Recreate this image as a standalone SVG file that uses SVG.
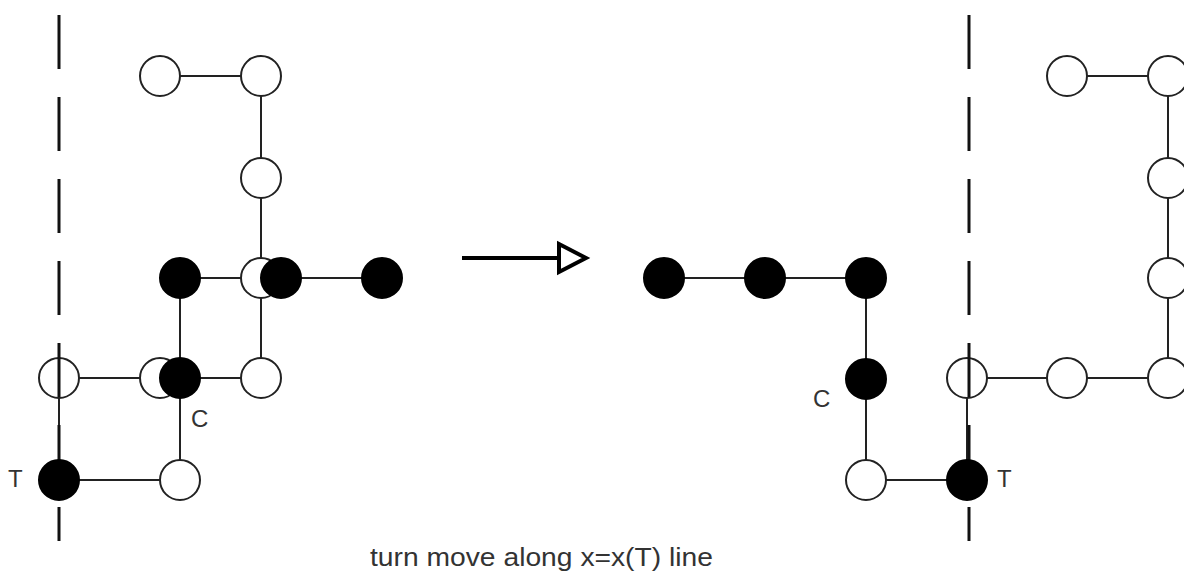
<svg xmlns="http://www.w3.org/2000/svg" width="1184" height="573" viewBox="0 0 1184 573">
  <style>
    .bond { stroke: #222; stroke-width: 2; fill: none; }
    .axis { stroke: #111; stroke-width: 3; stroke-dasharray: 54 28; fill: none; }
    .open { fill: #fff; stroke: #222; stroke-width: 2; }
    .full { fill: #000; stroke: #000; stroke-width: 2; }
    .lbl { font-family: "Liberation Sans", Arial, sans-serif; font-size: 26px; fill: #333; }
    .tag { font-size: 24px; }
  </style>
  <rect width="1184" height="573" fill="#fff"/>

  <!-- bonds between residues -->
  <g id="connectors">
    <!-- before -->
    <path class="bond" d="M160,76 H261 V378 H59 V480 H180 V278 H382"/>
    <!-- after -->
    <path class="bond" d="M663,278 H866 V480 H967 V378 H1168 V76 H1067"/>
    <!-- transition arrow -->
    <line x1="462" y1="258" x2="575" y2="258" stroke="#000" stroke-width="4"/>
    <path d="M559,244 L586,258 L559,272 Z" fill="#fff" stroke="#000" stroke-width="4" stroke-linejoin="miter"/>
  </g>

  <!-- before: open residues -->
  <g id="before-open">
    <circle class="open" cx="160" cy="76" r="20"/>
    <circle class="open" cx="261" cy="76" r="20"/>
    <circle class="open" cx="261" cy="178" r="20"/>
    <circle class="open" cx="261" cy="278" r="20"/>
    <circle class="open" cx="261" cy="378" r="20"/>
    <circle class="open" cx="160" cy="378" r="20"/>
    <circle class="open" cx="59" cy="378" r="20"/>
    <circle class="open" cx="180" cy="480" r="20"/>
  </g>

  <!-- after: open residues -->
  <g id="after-open">
    <circle class="open" cx="866" cy="480" r="20"/>
    <circle class="open" cx="967" cy="378" r="20"/>
    <circle class="open" cx="1067" cy="378" r="20"/>
    <circle class="open" cx="1168" cy="378" r="20"/>
    <circle class="open" cx="1168" cy="278" r="20"/>
    <circle class="open" cx="1168" cy="178" r="20"/>
    <circle class="open" cx="1168" cy="76" r="20"/>
    <circle class="open" cx="1067" cy="76" r="20"/>
  </g>

  <!-- x = x(T) reference lines -->
  <g id="axes">
    <line class="axis" x1="59" y1="15" x2="59" y2="541"/>
    <line class="axis" x1="969" y1="15" x2="969" y2="541"/>
  </g>

  <!-- before: filled residues -->
  <g id="before-filled">
    <circle class="full" cx="180" cy="278" r="20"/>
    <circle class="full" cx="281" cy="278" r="20"/>
    <circle class="full" cx="382" cy="278" r="20"/>
    <circle class="full" cx="180" cy="378" r="20"/>
    <circle class="full" cx="59" cy="480" r="20"/>
  </g>

  <!-- after: filled residues -->
  <g id="after-filled">
    <circle class="full" cx="664" cy="278" r="20"/>
    <circle class="full" cx="765" cy="278" r="20"/>
    <circle class="full" cx="866" cy="278" r="20"/>
    <circle class="full" cx="866" cy="379" r="20"/>
    <circle class="full" cx="967" cy="480" r="20"/>
  </g>

  <!-- labels -->
  <g id="labels">
    <text class="lbl tag" x="8" y="487">T</text>
    <text class="lbl tag" x="191" y="427">C</text>
    <text class="lbl tag" x="813" y="407">C</text>
    <text class="lbl tag" x="997" y="487">T</text>
    <text class="lbl" x="370" y="566" textLength="343" lengthAdjust="spacingAndGlyphs">turn move along x=x(T) line</text>
  </g>
</svg>
